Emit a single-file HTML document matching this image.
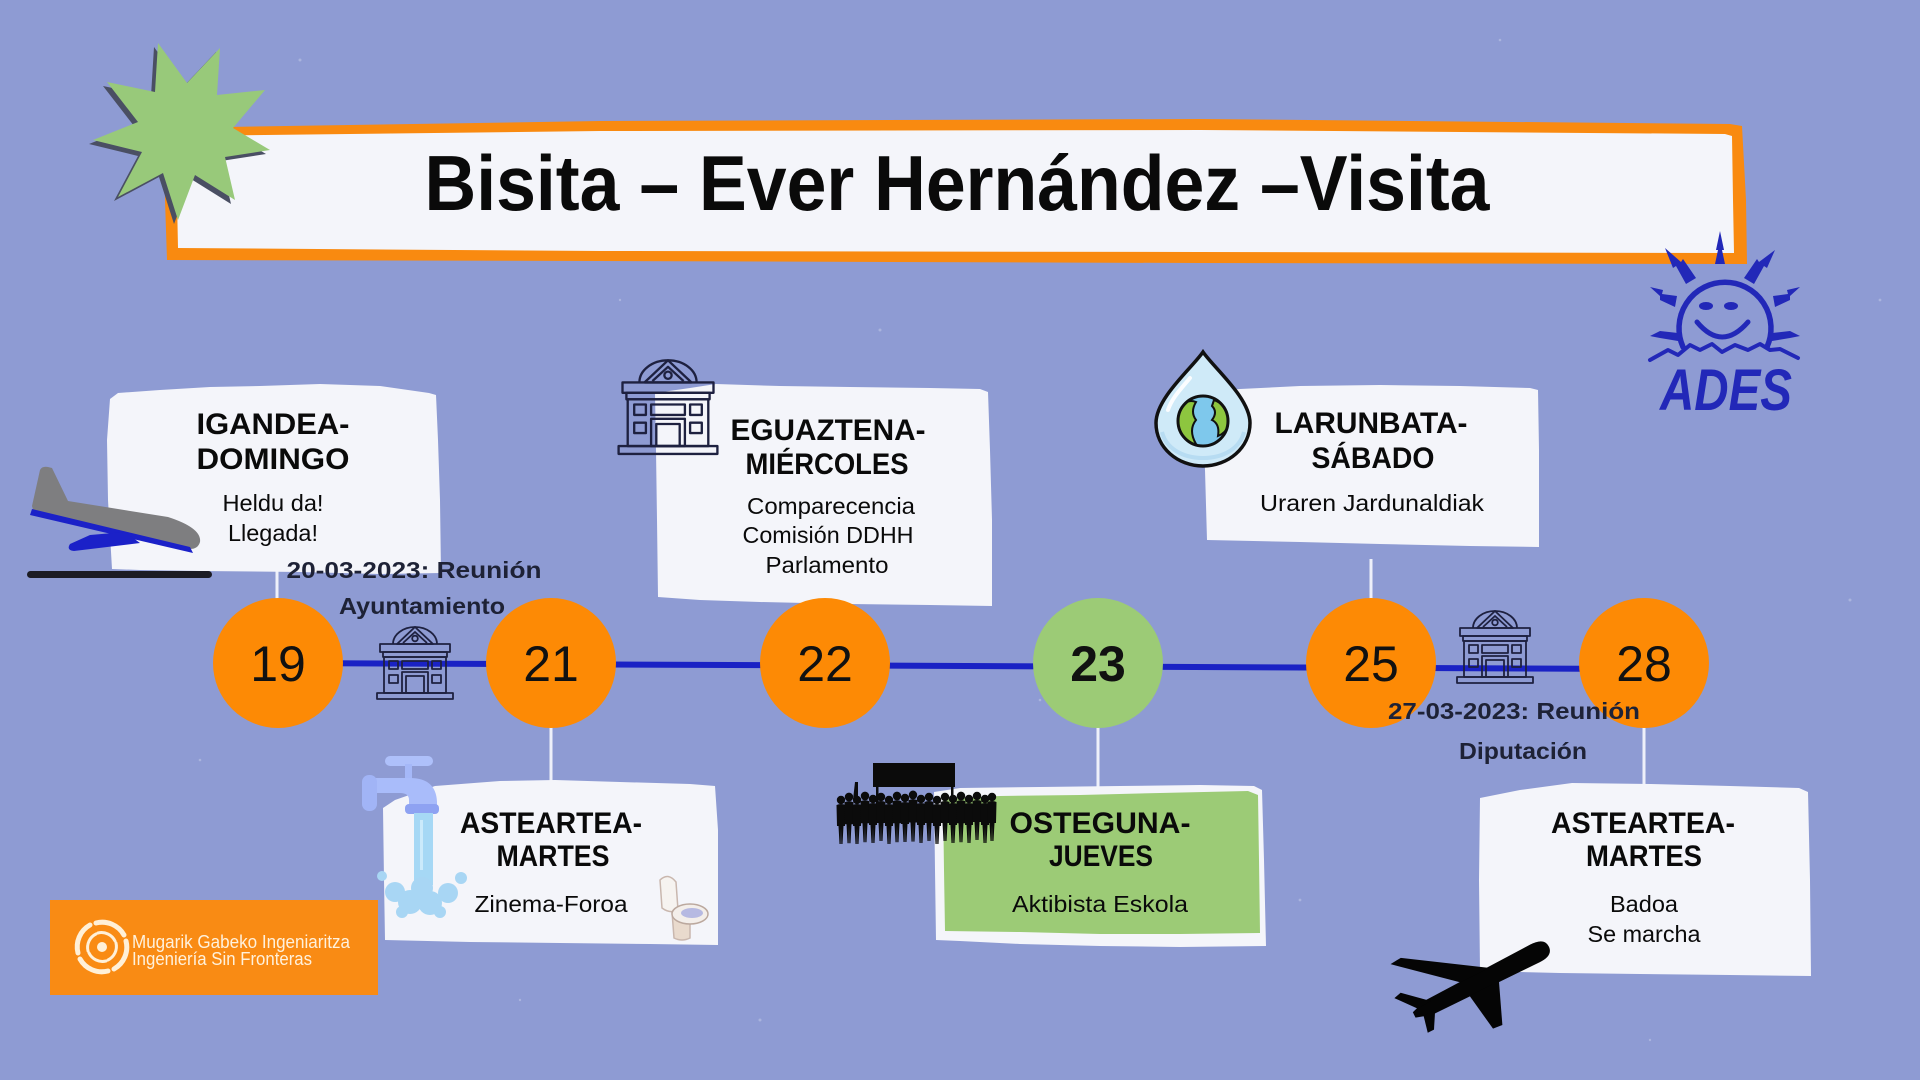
<!DOCTYPE html>
<html>
<head>
<meta charset="utf-8">
<style>
html,body{margin:0;padding:0;background:#8E9BD3;}
svg{display:block;}
</style>
</head>
<body>
<svg width="1920" height="1080" viewBox="0 0 1920 1080" xmlns="http://www.w3.org/2000/svg" font-family="'Liberation Sans', sans-serif">
<defs>
  <g id="bld" fill="none" stroke="#1E2140" stroke-width="1.8" stroke-linejoin="round">
    <path d="M18 18 A22 17 0 0 1 62 18"/>
    <path d="M22 18 L40 1 L58 18 Z"/>
    <path d="M28 17 L40 6 L52 17"/>
    <circle cx="40" cy="12.5" r="2.8"/>
    <rect x="5" y="18" width="70" height="8"/>
    <rect x="8" y="26" width="64" height="5"/>
    <rect x="9" y="31" width="62" height="36"/>
    <rect x="14" y="35" width="9" height="8"/>
    <rect x="14" y="49" width="9" height="8"/>
    <rect x="57" y="35" width="9" height="8"/>
    <rect x="57" y="49" width="9" height="8"/>
    <rect x="27" y="35" width="26" height="8"/>
    <rect x="27" y="46" width="26" height="21"/>
    <rect x="31" y="50" width="18" height="17"/>
    <rect x="2" y="67" width="76" height="6"/>
  </g>
  <g id="person" fill="#0B0B0B">
    <circle cx="0" cy="0" r="4.2"/>
    <path d="M-4.5 5 Q0 3 4.5 5 L4 26 L2.5 26 L1.5 44 L0.3 44 L0 28 L-0.3 44 L-1.5 44 L-2.5 26 L-4 26 Z"/>
  </g>
  <clipPath id="globeClip"><circle cx="1203" cy="421" r="25"/></clipPath>
</defs>

<!-- background -->
<rect x="0" y="0" width="1920" height="1080" fill="#8E9BD3"/>
<g fill="#FFFFFF" opacity="0.25">
  <circle cx="300" cy="60" r="1.5"/><circle cx="620" cy="300" r="1.2"/><circle cx="880" cy="330" r="1.5"/>
  <circle cx="1500" cy="40" r="1.3"/><circle cx="1850" cy="600" r="1.5"/><circle cx="1300" cy="900" r="1.4"/>
  <circle cx="760" cy="1020" r="1.5"/><circle cx="200" cy="760" r="1.3"/><circle cx="1650" cy="1040" r="1.2"/>
  <circle cx="1040" cy="700" r="1.3"/><circle cx="520" cy="1000" r="1.2"/><circle cx="1880" cy="300" r="1.4"/>
</g>

<!-- title banner -->
<polygon points="164,128 600,121 1200,119 1730,124 1742,126 1746,200 1747,264 1200,263 600,261 167,260 165,200" fill="#F98A10"/>
<polygon points="176,136 600,131 1200,130 1725,134 1732,136 1733,200 1734,253 1200,252 600,251 178,248 177,200" fill="#F4F5FA"/>
<text x="957" y="210" text-anchor="middle" font-size="78" font-weight="bold" fill="#0A0A0A" textLength="1065" lengthAdjust="spacingAndGlyphs">Bisita – Ever Hernández –Visita</text>

<!-- star -->
<g transform="translate(-4,4)">
<polygon fill="#4A4F63" points="158,43 187,83 220,48 217,95 265,90 233,128 270,150 225,157 235,200 195,175 178,220 163,173 118,197 142,152 93,140 138,122 107,82 155,92"/>
</g>
<polygon fill="#98C97A" points="158,43 187,83 220,48 217,95 265,90 233,128 270,150 225,157 235,200 195,175 178,220 163,173 118,197 142,152 93,140 138,122 107,82 155,92"/>

<!-- ADES logo -->
<g fill="#2228B8" stroke="none">
  <polygon points="1715,264 1718,250 1716,250 1720,231 1724,250 1722,250 1725,264"/>
  <polygon points="1686,284 1676,266 1673,268 1665,248 1681,262 1683,259 1696,278"/>
  <polygon points="1744,278 1757,259 1759,262 1775,250 1767,268 1764,266 1754,284"/>
  <polygon points="1677,296 1662,294 1663,290 1650,287 1660,296 1660,300 1675,307"/>
  <polygon points="1773,296 1788,294 1787,290 1800,287 1790,296 1790,300 1775,307"/>
  <polygon points="1678,333 1660,331 1650,336 1660,338 1678,341"/>
  <polygon points="1772,333 1790,331 1800,336 1790,338 1772,341"/>
  <ellipse cx="1706" cy="306" rx="7" ry="4"/>
  <ellipse cx="1731" cy="306" rx="7" ry="4"/>
</g>
<g fill="none" stroke="#2228B8" stroke-linecap="round" stroke-linejoin="round">
  <path d="M1683 347 A46 46 0 1 1 1767 347" stroke-width="5.5"/>
  <path d="M1697 322 Q1722 352 1748 322" stroke-width="5"/>
  <polyline points="1650,360 1668,350 1678,355 1690,345 1700,350 1712,344 1722,352 1735,345 1748,350 1760,344 1770,350 1780,349 1798,358" stroke-width="4"/>
</g>
<text x="1726" y="410" text-anchor="middle" font-size="58" font-weight="bold" font-style="italic" fill="#2228B8" textLength="132" lengthAdjust="spacingAndGlyphs">ADES</text>

<!-- timeline line -->
<line x1="278" y1="663" x2="1645" y2="669" stroke="#1A22C4" stroke-width="6"/>

<!-- connectors -->
<g stroke="#EEF0FA" stroke-width="3">
  <line x1="277" y1="560" x2="277" y2="600"/>
  <line x1="551" y1="720" x2="551" y2="790"/>
  <line x1="1098" y1="720" x2="1098" y2="790"/>
  <line x1="1371" y1="559" x2="1371" y2="600"/>
  <line x1="1644" y1="720" x2="1644" y2="790"/>
</g>

<!-- cards -->
<g fill="#F4F5FA">
  <polygon points="110,399 118,393 160,390 210,387 260,386 320,384 380,386 429,393 436,395 438,440 440,500 441,573 380,574 300,572 200,571 140,570 112,569 108,500 107,440"/>
  <polygon points="655,393 690,388 716,384 780,386 850,387 930,388 980,389 988,392 990,450 992,520 992,606 930,605 850,604 760,602 700,600 658,597 657,520 656,450"/>
  <polygon points="1202,392 1240,389 1300,386 1380,385 1460,386 1530,388 1538,390 1539,450 1539,547 1470,546 1380,544 1300,542 1207,540 1205,470"/>
  <polygon points="383,808 395,800 435,786 500,781 555,780 620,782 690,784 715,786 718,830 718,945 650,944 560,943 470,942 385,940 384,880"/>
  <polygon points="934,792 960,788 1040,787 1120,786 1200,785 1254,786 1262,790 1264,860 1266,946 1180,947 1100,946 1020,944 960,941 936,940 935,870"/>
  <polygon points="1480,798 1520,790 1572,783 1650,784 1730,786 1799,788 1808,792 1810,880 1811,976 1730,975 1640,974 1560,973 1480,971 1479,880"/>
</g>
<polygon fill="#9CCB76" points="943,799 1000,796 1080,795 1160,793 1248,791 1258,795 1259,860 1260,933 1180,934 1100,934 1020,932 945,931 944,870"/>

<!-- card texts -->
<g fill="#0A0A0A" text-anchor="middle">
  <text x="273" y="434" font-size="30" font-weight="bold" textLength="153" lengthAdjust="spacingAndGlyphs">IGANDEA-</text>
  <text x="273" y="469" font-size="30" font-weight="bold" textLength="153" lengthAdjust="spacingAndGlyphs">DOMINGO</text>
  <text x="273" y="511" font-size="23" textLength="101" lengthAdjust="spacingAndGlyphs">Heldu da!</text>
  <text x="273" y="541" font-size="23" textLength="90" lengthAdjust="spacingAndGlyphs">Llegada!</text>

  <text x="828" y="440" font-size="30" font-weight="bold" textLength="195" lengthAdjust="spacingAndGlyphs">EGUAZTENA-</text>
  <text x="827" y="474" font-size="30" font-weight="bold" textLength="163" lengthAdjust="spacingAndGlyphs">MIÉRCOLES</text>
  <text x="831" y="514" font-size="23" textLength="168" lengthAdjust="spacingAndGlyphs">Comparecencia</text>
  <text x="828" y="543" font-size="23" textLength="171" lengthAdjust="spacingAndGlyphs">Comisión DDHH</text>
  <text x="827" y="573" font-size="23" textLength="123" lengthAdjust="spacingAndGlyphs">Parlamento</text>

  <text x="1371" y="433" font-size="30" font-weight="bold" textLength="193" lengthAdjust="spacingAndGlyphs">LARUNBATA-</text>
  <text x="1373" y="468" font-size="30" font-weight="bold" textLength="123" lengthAdjust="spacingAndGlyphs">SÁBADO</text>
  <text x="1372" y="511" font-size="23" textLength="224" lengthAdjust="spacingAndGlyphs">Uraren Jardunaldiak</text>

  <text x="551" y="833" font-size="30" font-weight="bold" textLength="182" lengthAdjust="spacingAndGlyphs">ASTEARTEA-</text>
  <text x="553" y="866" font-size="30" font-weight="bold" textLength="113" lengthAdjust="spacingAndGlyphs">MARTES</text>
  <text x="551" y="912" font-size="23" textLength="153" lengthAdjust="spacingAndGlyphs">Zinema-Foroa</text>

  <text x="1100" y="833" font-size="30" font-weight="bold" textLength="181" lengthAdjust="spacingAndGlyphs">OSTEGUNA-</text>
  <text x="1101" y="866" font-size="30" font-weight="bold" textLength="104" lengthAdjust="spacingAndGlyphs">JUEVES</text>
  <text x="1100" y="912" font-size="23" textLength="176" lengthAdjust="spacingAndGlyphs">Aktibista Eskola</text>

  <text x="1643" y="833" font-size="30" font-weight="bold" textLength="184" lengthAdjust="spacingAndGlyphs">ASTEARTEA-</text>
  <text x="1644" y="866" font-size="30" font-weight="bold" textLength="116" lengthAdjust="spacingAndGlyphs">MARTES</text>
  <text x="1644" y="912" font-size="23" textLength="68" lengthAdjust="spacingAndGlyphs">Badoa</text>
  <text x="1644" y="942" font-size="23" textLength="113" lengthAdjust="spacingAndGlyphs">Se marcha</text>
</g>

<!-- plane 1 (landing) -->
<path d="M32 506 L40 470 Q42 466 48 467 L52 468 L68 501 L168 517 Q202 528 200 542 Q198 549 190 549 L34 513 Z" fill="#7E7E80"/>
<path d="M32 509 L190 547 L193 553 L30 515 Z" fill="#1B21C8"/>
<path d="M125 532 L90 535 L70 544 Q66 550 74 551 L140 543 Z" fill="#1B21C8"/>
<rect x="27" y="571" width="185" height="7" rx="3.5" fill="#1C1C24"/>

<!-- water drop globe -->
<path d="M1203 352 C1192 368 1156 398 1156 423 C1156 448 1178 466 1203 466 C1228 466 1250 448 1250 423 C1250 398 1214 368 1203 352 Z" fill="#CFEAF8" stroke="#111" stroke-width="3.5"/>
<path d="M1190 378 C1180 390 1172 398 1168 410" fill="none" stroke="#FFFFFF" stroke-width="4" stroke-linecap="round" opacity="0.9"/>
<path d="M1162 432 C1166 448 1182 458 1203 458 C1224 458 1240 448 1244 432" fill="none" stroke="#B7DCF2" stroke-width="4"/>
<circle cx="1203" cy="421" r="25" fill="#7EC8EC"/>
<g clip-path="url(#globeClip)" fill="#8DC63F" stroke="#111" stroke-width="2">
  <path d="M1176 410 Q1186 398 1196 402 Q1190 412 1196 420 Q1188 430 1196 444 Q1180 444 1176 430 Z"/>
  <path d="M1214 400 Q1226 404 1230 420 Q1228 432 1218 436 Q1220 424 1212 420 Q1218 412 1212 406 Z"/>
</g>
<circle cx="1203" cy="421" r="25" fill="none" stroke="#111" stroke-width="3"/>

<!-- faucet -->
<rect x="385" y="756" width="48" height="10" rx="5" fill="#AEC0FA"/>
<rect x="405" y="764" width="7" height="16" fill="#A5B8F8"/>
<path d="M372 778 L410 778 Q436 778 437 802 L437 808 L409 808 L409 800 Q409 793 400 793 L372 793 Z" fill="#A9BCFA"/>
<rect x="362" y="775" width="15" height="36" rx="7" fill="#A1B4F6"/>
<rect x="405" y="804" width="34" height="10" rx="4" fill="#8EA2F2"/>
<rect x="414" y="813" width="19" height="72" fill="#A6D8F5"/>
<rect x="420" y="820" width="3" height="50" fill="#CBEAFB"/>
<g fill="#A8D6F4">
  <circle cx="395" cy="892" r="10"/><circle cx="410" cy="902" r="12"/><circle cx="430" cy="903" r="12"/>
  <circle cx="448" cy="893" r="10"/><circle cx="422" cy="888" r="11"/><circle cx="382" cy="876" r="5"/>
  <circle cx="461" cy="878" r="6"/><circle cx="402" cy="912" r="6"/><circle cx="440" cy="912" r="6"/>
</g>

<!-- toilet -->
<g>
  <path d="M660 880 Q668 872 676 882 L678 910 Q670 914 662 908 Z" fill="#F6F3F0" stroke="#C9B7AE" stroke-width="1.5"/>
  <path d="M672 912 L690 912 L690 938 Q682 942 674 938 Z" fill="#E9DACD" stroke="#C9B7AE" stroke-width="1.5"/>
  <ellipse cx="690" cy="914" rx="18" ry="10" fill="#F3EEEA" stroke="#BBA89E" stroke-width="1.5"/>
  <ellipse cx="692" cy="913" rx="11" ry="5" fill="#B6B9E2"/>
</g>

<!-- crowd -->
<g fill="#0B0B0B">
  <rect x="873" y="763" width="82" height="24"/>
  <rect x="876" y="785" width="2.5" height="25"/>
  <rect x="951" y="785" width="2.5" height="25"/>
  <path d="M853 800 L855 782 L858 782 L858 800 Z"/>
  <use href="#person" transform="translate(841,800)"/>
  <use href="#person" transform="translate(849,797) scale(1,1.05)"/>
  <use href="#person" transform="translate(857,800)"/>
  <use href="#person" transform="translate(865,796) scale(1,1.05)"/>
  <use href="#person" transform="translate(873,799)"/>
  <use href="#person" transform="translate(881,797)"/>
  <use href="#person" transform="translate(889,800)"/>
  <use href="#person" transform="translate(897,796) scale(1,1.05)"/>
  <use href="#person" transform="translate(905,798)"/>
  <use href="#person" transform="translate(913,795) scale(1,1.06)"/>
  <use href="#person" transform="translate(921,799)"/>
  <use href="#person" transform="translate(929,797)"/>
  <use href="#person" transform="translate(937,800)"/>
  <use href="#person" transform="translate(945,797)"/>
  <use href="#person" transform="translate(953,799)"/>
  <use href="#person" transform="translate(961,796) scale(1,1.05)"/>
  <use href="#person" transform="translate(969,799)"/>
  <use href="#person" transform="translate(977,796)"/>
  <use href="#person" transform="translate(985,799)"/>
  <use href="#person" transform="translate(992,797)"/>
</g>

<!-- plane 2 (departing) -->
<g transform="translate(1473,985) rotate(-27)" fill="#050505">
  <path d="M85 0 C85 -8 78 -10 70 -10 L-50 -8 L-66 -3 L-66 3 L-50 8 L70 10 C78 10 85 8 85 0 Z"/>
  <path d="M22 -8 L-52 -57 L-64 -56 L-10 -8 Z"/>
  <path d="M25 8 L8 49 L-2 48 L-8 8 Z"/>
  <path d="M-45 -5 L-68 -26 L-76 -24 L-60 -4 Z"/>
  <path d="M-45 5 L-55 22 L-62 22 L-58 5 Z"/>
</g>

<!-- buildings -->
<use href="#bld" transform="translate(375,626)"/>
<use href="#bld" transform="translate(616,359) scale(1.3)"/>
<use href="#bld" transform="translate(1455,610)"/>

<!-- circles -->
<g>
  <circle cx="278" cy="663" r="65" fill="#FD8A05"/>
  <circle cx="551" cy="663" r="65" fill="#FD8A05"/>
  <circle cx="825" cy="663" r="65" fill="#FD8A05"/>
  <circle cx="1098" cy="663" r="65" fill="#9CCB76"/>
  <circle cx="1371" cy="663" r="65" fill="#FD8A05"/>
  <circle cx="1644" cy="663" r="65" fill="#FD8A05"/>
</g>
<g fill="#111" text-anchor="middle" font-size="50">
  <text x="278" y="681">19</text>
  <text x="551" y="681">21</text>
  <text x="825" y="681">22</text>
  <text x="1098" y="681" font-weight="bold">23</text>
  <text x="1371" y="681">25</text>
  <text x="1644" y="681">28</text>
</g>

<!-- date labels -->
<g fill="#1E2236" text-anchor="middle" font-weight="bold" font-size="23">
  <text x="414" y="578" textLength="255" lengthAdjust="spacingAndGlyphs">20-03-2023: Reunión</text>
  <text x="422" y="614" textLength="166" lengthAdjust="spacingAndGlyphs">Ayuntamiento</text>
  <text x="1514" y="719" textLength="252" lengthAdjust="spacingAndGlyphs">27-03-2023: Reunión</text>
  <text x="1523" y="759" textLength="128" lengthAdjust="spacingAndGlyphs">Diputación</text>
</g>

<!-- ISF logo -->
<rect x="50" y="900" width="328" height="95" fill="#F98B14"/>
<g transform="translate(102,947)" fill="none" stroke="#FFF0D8" stroke-linecap="round">
  <circle cx="0" cy="0" r="5" fill="#FFF0D8" stroke="none"/>
  <g stroke-width="5">
    <path d="M-6 -24 A25 25 0 0 1 22 -12"/>
    <path d="M24 -6 A25 25 0 0 1 12 22"/>
    <path d="M6 24 A25 25 0 0 1 -22 12"/>
    <path d="M-24 6 A25 25 0 0 1 -12 -22"/>
  </g>
  <g stroke-width="3">
    <path d="M-4 -14 A15 15 0 0 1 13 -6"/>
    <path d="M14 -4 A15 15 0 0 1 6 13"/>
    <path d="M4 14 A15 15 0 0 1 -13 6"/>
    <path d="M-14 4 A15 15 0 0 1 -6 -13"/>
  </g>
</g>
<g fill="#FFF1DC" font-size="18">
  <text x="132" y="948" textLength="218" lengthAdjust="spacingAndGlyphs">Mugarik Gabeko Ingeniaritza</text>
  <text x="132" y="965" textLength="180" lengthAdjust="spacingAndGlyphs">Ingeniería Sin Fronteras</text>
</g>
</svg>
</body>
</html>
